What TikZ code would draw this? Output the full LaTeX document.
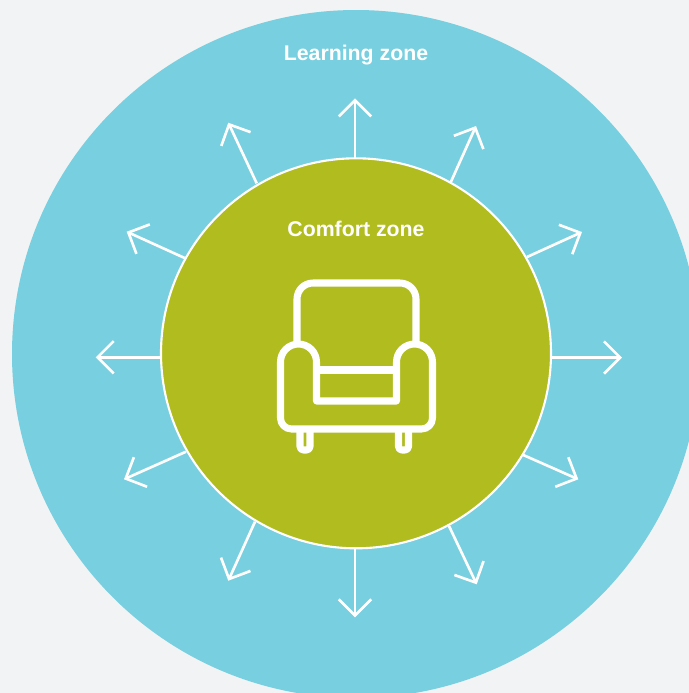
\documentclass[tikz,border=0pt]{standalone}
\usepackage{fontspec}
\setmainfont{Liberation Sans}
\usepackage{tikz}
\usetikzlibrary{arrows.meta}
\definecolor{bgGray}{HTML}{F2F3F5}
\definecolor{learnBlue}{HTML}{78CFDF}
\definecolor{comfortGreen}{HTML}{B1BC1F}

\begin{document}
\begin{tikzpicture}[x=0.01cm,y=-0.01cm,
    zonearrow/.style={-{Straight Barb[length=4.6pt,width=9.2pt]},white,line width=0.75pt},
    chair/.style={white,line width=2pt,line join=round},
    zonelabel/.style={anchor=base,inner sep=0pt,text=white,font=\fontsize{6.05}{7}\selectfont\bfseries}]

        % Nền
        \fill[bgGray] (0,0) rectangle (689,693);
        \clip (0,0) rectangle (689,693);

        % Vùng học tập
        \fill[learnBlue] (356,354) circle (344); % Vòng ngoài
        \node[zonelabel] (learning) at (356,60) {Learning zone};

        % Vùng thoải mái
        \filldraw[fill=comfortGreen,draw=white,line width=0.6pt] (356,353.3) circle (195); % Vòng trong
        \node[zonelabel] (comfort) at (356,236) {Comfort zone};

        % Vẽ các mũi tên hướng ra ngoài
        \draw[zonearrow] (355,158.3) -- (355,98.3);
        \draw[zonearrow] (450.7,182.3) -- (476,126);
        \draw[zonearrow] (527,257) -- (582,232);
        \draw[zonearrow] (551,357.5) -- (622,357.5);
        \draw[zonearrow] (523.3,455) -- (578.3,479.3);
        \draw[zonearrow] (449,526) -- (476.7,584.3);
        \draw[zonearrow] (355,548.3) -- (355,617.3);
        \draw[zonearrow] (255,521.7) -- (228.3,580.7);
        \draw[zonearrow] (186,451.7) -- (124,479.3);
        \draw[zonearrow] (161,357.3) -- (95.7,357.3);
        \draw[zonearrow] (185.3,258.3) -- (126.7,231.7);
        \draw[zonearrow] (256.7,183.3) -- (228.3,122.7);

        % Lưng ghế
        \draw[chair] (297,344) -- (297,299) arc[start angle=180,end angle=270,radius=16]
            -- (400,283) arc[start angle=270,end angle=360,radius=16] -- (416,344);

        % Tay vịn, đáy ghế và mép dưới đệm
        \draw[chair] (316.5,401) -- (316.5,362) arc[start angle=360,end angle=180,radius=18]
            -- (280.5,418) arc[start angle=180,end angle=90,radius=11]
            -- (421.5,429) arc[start angle=90,end angle=0,radius=11]
            -- (432.5,362) arc[start angle=360,end angle=180,radius=18] -- (396.5,401) -- cycle;

        % Mép trên đệm ngồi
        \draw[chair] (316.5,370) -- (396.5,370);

        % Chân ghế
        \draw[chair,rounded corners=1pt] (300,429) -- (300,450) -- (310,450) -- (310,429);
        \draw[chair,rounded corners=1pt] (398.5,429) -- (398.5,450) -- (408.5,450) -- (408.5,429);

\end{tikzpicture}
\end{document}
